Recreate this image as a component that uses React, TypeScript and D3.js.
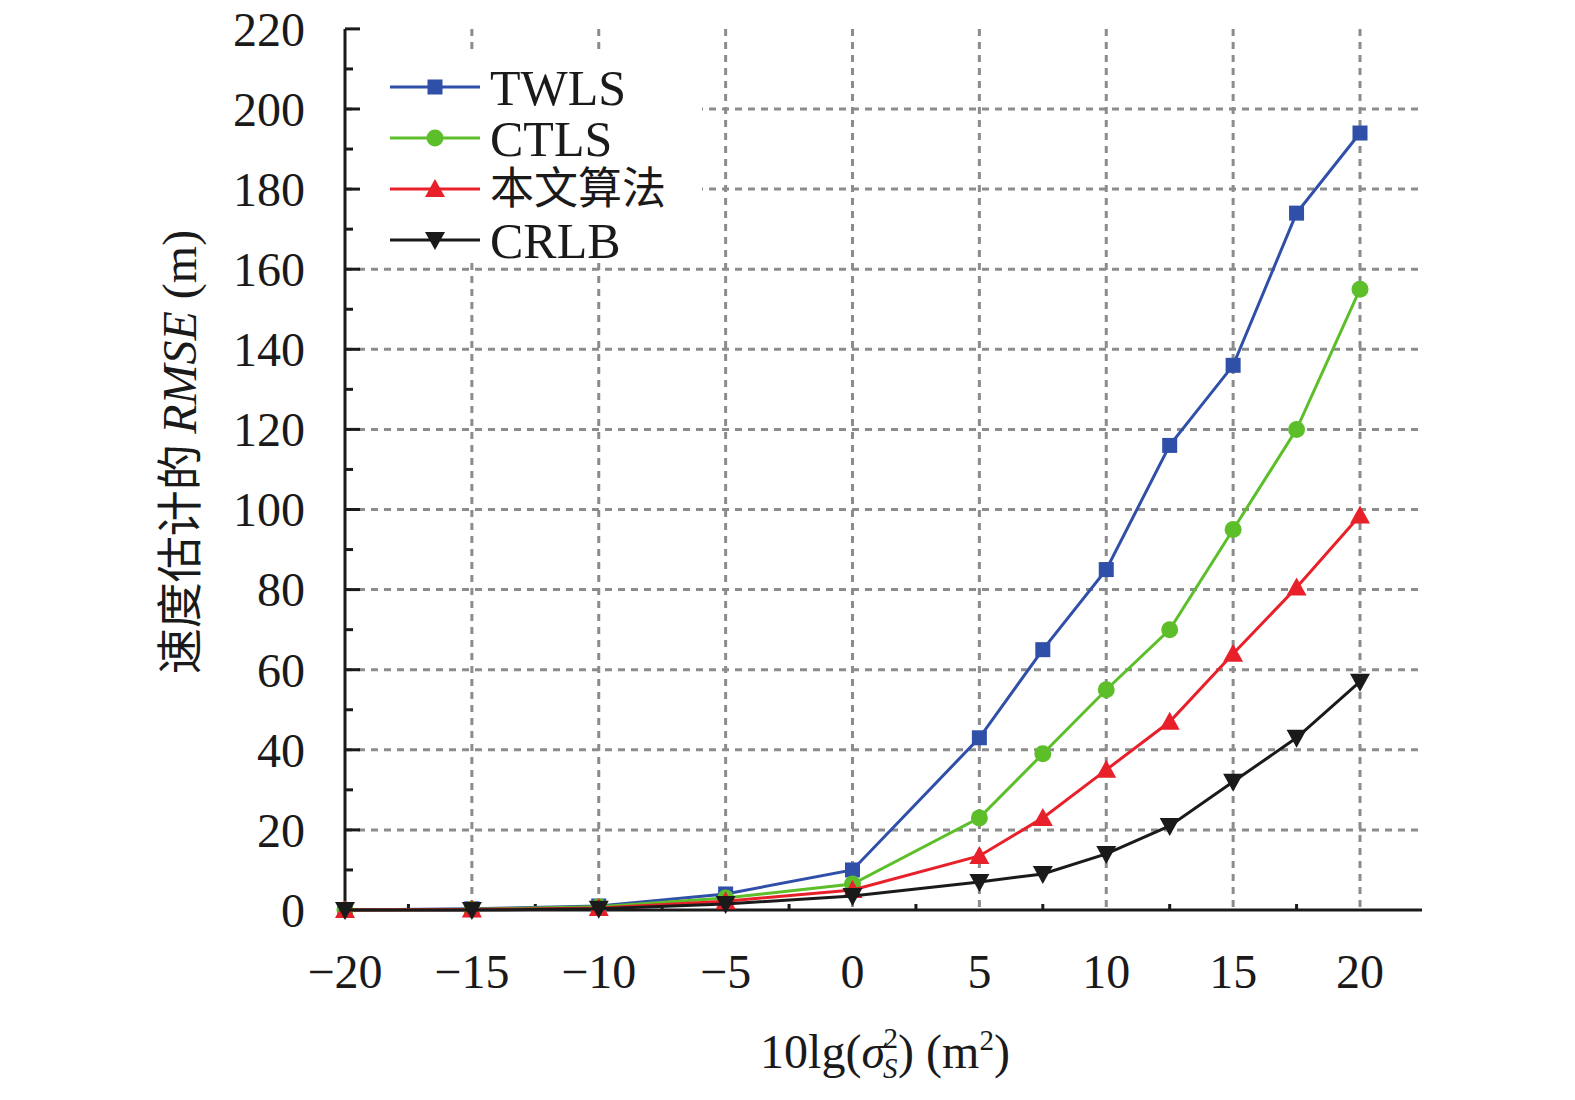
import React from "react";
import * as d3 from "d3";

const xs = [-20, -15, -10, -5, 0, 5, 7.5, 10, 12.5, 15, 17.5, 20];
const twls = [0, 0.3, 1, 4, 10, 43, 65, 85, 116, 136, 174, 194];
const ctls = [0, 0.2, 0.8, 3, 6.5, 23, 39, 55, 70, 95, 120, 155];
const ours = [0, 0.1, 0.5, 2.2, 5, 13.5, 23, 35, 47, 64, 80.5, 98.5];
const crlb = [0, 0, 0.3, 1.5, 3.5, 7, 9, 14, 21, 32, 43, 57];
const xTicks = [-20, -15, -10, -5, 0, 5, 10, 15, 20];
const yTicks = [0, 20, 40, 60, 80, 100, 120, 140, 160, 180, 200, 220];
const seriesNames = ["TWLS", "CTLS", "本文算法", "CRLB"];
const seriesColors = ["#2f4fa8", "#5cbf2a", "#e8202a", "#1a1a1a"];
const seriesMarks = ["square", "circle", "tri", "tridown"];

const x = d3.scaleLinear().domain([-20, 20]).range([345, 1360]);
const y = d3.scaleLinear().domain([0, 200]).range([910, 109]);
const serif = "'Liberation Serif', 'Times New Roman', serif";

function Marker({ kind, cx, cy, color }: { kind: string; cx: number; cy: number; color: string }) {
  if (kind === "square") return <rect x={cx - 7.5} y={cy - 7.5} width={15} height={15} fill={color} />;
  if (kind === "circle") return <circle cx={cx} cy={cy} r={8.5} fill={color} />;
  if (kind === "tri") return <path d={`M${cx},${cy - 10}L${cx + 10},${cy + 8}L${cx - 10},${cy + 8}Z`} fill={color} />;
  return <path d={`M${cx},${cy + 10}L${cx + 10},${cy - 8}L${cx - 10},${cy - 8}Z`} fill={color} />;
}

export default function App() {
  const data = [twls, ctls, ours, crlb];
  const line = d3.line<number>().x((_, i) => x(xs[i])).y((v) => y(v));
  const xRight = 1422;
  const yTop = y(220);
  return (
    <svg width={1575} height={1100} style={{ display: "block", position: "absolute", left: 0, top: 0 }}>
      <rect width={1575} height={1100} fill="#fff" />
      {xTicks.slice(1).map((t) => (
        <line key={"gx" + t} x1={x(t)} x2={x(t)} y1={yTop} y2={910} stroke="#8c8c8c" strokeWidth={3} strokeDasharray="7,6" />
      ))}
      {yTicks.slice(1, 11).map((t) => (
        <line key={"gy" + t} x1={345} x2={xRight} y1={y(t)} y2={y(t)} stroke="#8c8c8c" strokeWidth={3} strokeDasharray="7,6" />
      ))}
      <rect x={352} y={52} width={350} height={210} fill="#fff" />
      <line x1={345} x2={345} y1={yTop} y2={911} stroke="#1a1a1a" strokeWidth={3} />
      <line x1={344} x2={xRight} y1={910} y2={910} stroke="#1a1a1a" strokeWidth={3} />
      {d3.range(0, 221, 10).map((t) => (
        <line key={"ty" + t} x1={345} x2={t % 20 === 0 ? 360 : 353} y1={y(t)} y2={y(t)} stroke="#1a1a1a" strokeWidth={3} />
      ))}
      {d3.range(-17.5, 22, 5).map((t) => (
        <line key={"tx" + t} x1={x(t)} x2={x(t)} y1={910} y2={904} stroke="#1a1a1a" strokeWidth={3} />
      ))}
      {yTicks.map((t) => (
        <text key={"ly" + t} x={305} y={y(t)} dy="0.35em" textAnchor="end" fontFamily={serif} fontSize={48} fill="#1a1a1a">{t}</text>
      ))}
      {xTicks.map((t) => (
        <text key={"lx" + t} x={x(t)} y={988} textAnchor="middle" fontFamily={serif} fontSize={48} fill="#1a1a1a">{t < 0 ? "−" + Math.abs(t) : t}</text>
      ))}
      {data.map((d, si) => (
        <g key={"s" + si}>
          <path d={line(d) || ""} fill="none" stroke={seriesColors[si]} strokeWidth={3} />
          {d.map((v, i) => (
            <Marker key={i} kind={seriesMarks[si]} cx={x(xs[i])} cy={y(v)} color={seriesColors[si]} />
          ))}
        </g>
      ))}
      {seriesNames.map((n, i) => {
        const ly = 87 + i * 51;
        return (
          <g key={"lg" + i}>
            <line x1={390} x2={480} y1={ly} y2={ly} stroke={seriesColors[i]} strokeWidth={3} />
            <Marker kind={seriesMarks[i]} cx={435} cy={ly} color={seriesColors[i]} />
            <text x={490} y={ly} dy="0.35em" fontFamily={i === 2 ? "'Noto Sans CJK SC'" : serif} fontSize={i === 2 ? 44 : 50} fill="#1a1a1a">{n}</text>
          </g>
        );
      })}
      <text x={885} y={1068} textAnchor="middle" fontFamily={serif} fontSize={48} fill="#1a1a1a">
        10lg(<tspan fontStyle="italic">σ</tspan>
        <tspan fontStyle="italic" fontSize={29} dy={10} dx={-2}>S</tspan>
        <tspan fontSize={29} dy={-30} dx={-14}>2</tspan>
        <tspan dy={20}>) (m</tspan>
        <tspan fontSize={29} dy={-18}>2</tspan>
        <tspan dy={18}>)</tspan>
      </text>
      <text transform="translate(180,452) rotate(-90)" textAnchor="middle" fontSize={46} fill="#1a1a1a" dy="0.35em">
        <tspan fontFamily="'Noto Sans CJK SC'">速度估计的 </tspan>
        <tspan fontFamily={serif} fontStyle="italic" fontSize={48}>RMSE</tspan>
        <tspan fontFamily={serif} fontSize={48}> (m)</tspan>
      </text>
    </svg>
  );
}
